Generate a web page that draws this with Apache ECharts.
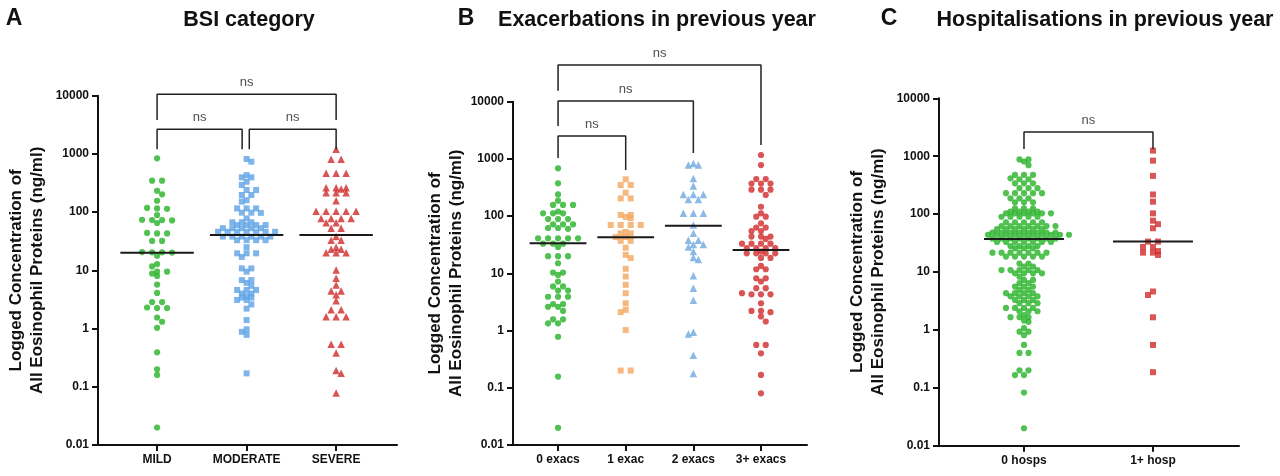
<!DOCTYPE html>
<html>
<head>
<meta charset="utf-8">
<script src="https://cdn.jsdelivr.net/npm/echarts@6.0.0/dist/echarts.min.js"></script>
<style>
html, body { margin: 0; padding: 0; background: #fff; }
#chart { width: 1280px; height: 476px; }
</style>
</head>
<body>
<div id="chart"></div>
<script>
// tick labels of the log axis (0.01 .. 10000)
var yTickLabels = ['0.01', '0.1', '1', '10', '100', '1000', '10000'];

// categories
var catsA = ['MILD', 'MODERATE', 'SEVERE'];
var catsB = ['0 exacs', '1 exac', '2 exacs', '3+ exacs'];
var catsC = ['0 hosps', '1+ hosp'];

// A - BSI category (ng/ml)
var mild = [840, 347, 347, 233, 202, 157, 116, 118, 114, 89, 73, 74, 72, 73, 65, 43, 43, 44, 32, 32,
  20.4, 20.4, 20.6, 20.2, 17.8, 12.8, 11.7, 9.5, 9.5, 8.8, 8.0, 5.7, 4.1, 2.85, 2.85, 2.25, 2.25, 2.3,
  1.55, 1.31, 1.03, 0.39, 0.20, 0.16, 0.020];
var moderate = [817, 735, 433, 396, 396, 333, 292, 240, 240, 197, 197, 160, 152, 116, 116, 116, 98, 98,
  97, 78, 67, 67, 67, 60, 60, 60, 60, 53, 53, 53, 53, 53, 46, 46, 46, 46, 46, 46, 46, 38, 38, 38, 38,
  38, 38, 33, 33, 33, 33, 25, 19.6, 19.6, 19.6, 17, 10.8, 10.8, 9.5, 6.8, 6.8, 6.1, 5.4, 4.6, 4.6, 4.6,
  4.0, 4.0, 3.6, 3.4, 3.4, 3.1, 3.1, 2.6, 2.2, 1.4, 0.97, 0.88, 0.78, 0.17];
var severe = [1200, 807, 807, 465, 465, 465, 263, 263, 263, 250, 215, 215, 215, 157, 104, 104, 104, 104,
  104, 78, 78, 78, 78, 66, 66, 53, 53, 38, 33, 33, 25, 23, 23, 20, 20, 20, 10.1, 7.3, 5.6, 4.4, 4.4,
  3.8, 3.0, 2.1, 2.1, 1.6, 1.6, 1.6, 0.54, 0.54, 0.38, 0.19, 0.17, 0.078];

// B - exacerbations in previous year
var exac0 = [684, 374, 240, 186, 157, 157, 157, 120, 112, 112, 112, 89, 89, 89, 72, 72, 72, 62, 62, 60,
  41, 41, 41, 41, 41, 33, 33, 33, 29, 20, 20, 20, 15, 10.3, 10.3, 9.4, 7.2, 5.9, 5.9, 5.0, 5.0, 3.9,
  3.9, 3.9, 2.9, 2.9, 2.6, 2.6, 2.2, 1.57, 1.57, 1.34, 1.34, 0.78, 0.157, 0.020];
var exac1 = [440, 350, 350, 257, 204, 204, 105, 105, 97, 92, 70, 70, 70, 70, 53, 50, 50, 43, 43, 37, 37,
  28, 21, 18.5, 12, 8.8, 6.3, 4.5, 3.0, 2.3, 2.1, 1.02, 0.2, 0.2];
var exac2 = [830, 782, 782, 457, 336, 240, 240, 240, 195, 195, 112, 112, 112, 70, 50, 38, 38, 32, 32, 29,
  24, 19, 17.5, 9.1, 5.5, 3.4, 0.93, 0.87, 0.37, 0.178];
var exac3 = [1170, 782, 445, 445, 370, 370, 370, 290, 290, 290, 235, 146, 112, 98, 98, 75, 63, 63, 55, 55,
  44, 44, 44, 40, 33, 33, 33, 33, 27.5, 27.5, 27.5, 27.5, 24, 22.4, 22.4, 22.4, 22.4, 18.6, 18.6, 13.5,
  11.8, 11.8, 8.2, 8.2, 7.2, 5.5, 5.5, 4.5, 4.3, 4.3, 4.3, 3.0, 2.2, 2.2, 2.1, 1.76, 1.44, 0.56, 0.56,
  0.40, 0.168, 0.080];

// C - hospitalisations in previous year
var hosp0 = [880, 880, 810, 700, 475, 475, 475, 415, 400, 400, 340, 340, 340, 280, 280, 280,
  230, 230, 230, 230, 230, 187, 187, 187, 160, 160, 160, 126, 126, 126, 110, 110, 110, 110,
  103, 103, 103, 103, 103, 103, 90, 90, 90, 90, 90, 72, 72, 72, 72, 72,
  62, 62, 62, 62, 62, 62, 62, 55, 55, 55, 55, 55, 55, 48, 48, 48, 48, 48, 48, 48, 48,
  44, 44, 44, 44, 44, 44, 44, 44, 44, 44, 38, 38, 38, 38, 38, 38, 38, 38,
  33, 33, 33, 33, 33, 33, 33, 28, 28, 28, 28, 25.6, 25.6, 25.6,
  21.6, 21.6, 21.6, 21.6, 21.6, 21.6, 21.6, 18.5, 18.5, 18.5, 18.5, 18.5,
  14, 14, 12.4, 12.4, 10.8, 10.8, 10.8, 10.8, 10.8, 9.5, 9.5, 9.5, 9.5, 8.3, 7.3, 7.3, 6.4, 6.4,
  5.6, 5.6, 5.6, 4.9, 4.9, 4.3, 4.3, 4.3, 4.3, 3.8, 3.8, 3.8, 3.8, 3.3, 3.3, 3.3, 2.9, 2.9, 2.9,
  2.4, 2.4, 2.4, 2.4, 2.1, 2.1, 2.1, 1.8, 1.66, 1.66, 1.66, 1.45, 1.38, 1.07, 0.93, 0.93, 0.81,
  0.55, 0.40, 0.40, 0.20, 0.20, 0.166, 0.166, 0.083, 0.020];
var hosp1 = [1250, 838, 457, 218, 164, 103, 77, 67, 57, 33.5, 33.5, 27, 27, 23, 21.6, 21.6, 19.7,
  4.6, 4.0, 1.65, 0.55, 0.186];

// medians (horizontal bars)
var mediansA = [20.1, 40.5, 40.5];
var mediansB = [33.5, 42.7, 68, 25.7];
var mediansC = [37, 33.5];

// comparison brackets: [from, to, bar level, left leg end, right leg end] (log10 units)
var bracketsA = [[0, 2, 4.024, 3.582, 3.582], [0, 0.95, 3.423, 3.079, 3.079], [1.03, 2, 3.423, 3.079, 3.079]];
var bracketsB = [[0, 3, 4.642, 4.192, 3.243], [0, 2, 4.012, 3.575, 3.103], [0, 1, 3.40, 3.016, 2.806]];
var bracketsC = [[0, 1, 3.418, 3.124, 3.124]];

var GREEN = '#25b225', BLUE = '#5ca3e6', RED = '#cf2a2a', ORANGE = '#f2a860', LBLUE = '#6fa8de';
var FONT = '"Liberation Sans", Arial, sans-serif';
var ROW_TOL = 1.2, ROW_GAP = 5.5;
var symbolSizes = { circle: 6.2, rect: 6, triangle: 7.5 };

var panels = [
  { grid: { left: 98, top: 95.7, width: 299, height: 349.3 }, xMin: -0.66, xMax: 2.68,
    cats: catsA, groups: [mild, moderate, severe], symbols: ['circle', 'rect', 'triangle'],
    colors: [GREEN, BLUE, RED], spacing: [10, 9.5, 10], medians: mediansA, medW: 0.41, brackets: bracketsA,
    nameGap: 50, title: 'BSI category', titleX: 249, letter: 'A', letterX: 14 },
  { grid: { left: 513, top: 101.7, width: 294, height: 343.3 }, xMin: -0.666, xMax: 3.68,
    cats: catsB, groups: [exac0, exac1, exac2, exac3], symbols: ['circle', 'rect', 'triangle', 'circle'],
    colors: [GREEN, ORANGE, LBLUE, RED], spacing: [10, 10, 10, 9.5], medians: mediansB, medW: 0.42,
    brackets: bracketsB, nameGap: 45, title: 'Exacerbations in previous year', titleX: 657, letter: 'B', letterX: 466 },
  { grid: { left: 939, top: 98.3, width: 300, height: 347.4 }, xMin: -0.659, xMax: 1.667,
    cats: catsC, groups: [hosp0, hosp1], symbols: ['circle', 'rect'],
    colors: [GREEN, RED], spacing: [9, 10], medians: mediansC, medW: 0.31, brackets: bracketsC,
    nameGap: 50, title: 'Hospitalisations in previous year', titleX: 1105, letter: 'C', letterX: 889 }
];

// row-based dot layout: near-equal values share a row, close rows are staggered by half a step
function swarm(vals, idx, pxDec, pxUnit, s) {
  var sorted = vals.slice().sort(function (a, b) { return b - a; });
  var rows = [];
  sorted.forEach(function (v) {
    var y = Math.log10(v) * pxDec;
    var last = rows[rows.length - 1];
    if (last && last.y - y < ROW_TOL) last.vals.push(v);
    else rows.push({ y: y, vals: [v] });
  });
  var out = [], prev = null, flip = 1;
  rows.forEach(function (r) {
    var n = r.vals.length;
    var phase = (n % 2 === 0) ? s / 2 : 0;
    var shift = 0;
    if (prev && prev.y - r.y < ROW_GAP && Math.abs(prev.phase - phase) < 0.01) {
      shift = flip * s / 2;
      flip = -flip;
      phase = s / 2 - phase;
    }
    r.vals.forEach(function (v, k) {
      var px = (k - (n - 1) / 2) * s + shift;
      out.push([idx + px / pxUnit, v]);
    });
    prev = { y: r.y, phase: phase };
  });
  return out;
}

var grids = [], xAxes = [], yAxes = [], series = [], graphics = [];

panels.forEach(function (p, pi) {
  var pxUnit = p.grid.width / (p.xMax - p.xMin);
  var pxDec = p.grid.height / 6;
  var ticks = p.cats.map(function (c, i) { return i; });
  grids.push(p.grid);
  xAxes.push({
    type: 'value', gridIndex: pi, min: p.xMin, max: p.xMax, splitLine: { show: false },
    axisLine: { show: true, onZero: false, lineStyle: { color: '#111', width: 2 } },
    axisTick: { show: true, customValues: ticks, length: 6, lineStyle: { color: '#111', width: 2 } },
    axisLabel: {
      customValues: ticks, margin: 9, fontSize: 12, fontWeight: 'bold', color: '#111', fontFamily: FONT,
      formatter: function (v) { return p.cats[Math.round(v)]; }
    }
  });
  yAxes.push({
    type: 'log', logBase: 10, gridIndex: pi, min: 0.01, max: 10000, splitLine: { show: false },
    name: 'Logged Concentration of\nAll Eosinophil Proteins (ng/ml)', nameLocation: 'middle', nameGap: p.nameGap,
    nameTextStyle: { fontSize: 17, fontWeight: 'bold', color: '#111', lineHeight: 21, fontFamily: FONT },
    axisLine: { show: true, onZero: false, lineStyle: { color: '#111', width: 2 } },
    axisTick: { show: true, length: 6, lineStyle: { color: '#111', width: 2 } },
    minorTick: { show: false },
    axisLabel: {
      margin: 9, fontSize: 12, fontWeight: 'bold', color: '#111', fontFamily: FONT,
      formatter: function (v) { return yTickLabels[Math.round(Math.log10(v)) + 2]; }
    }
  });

  p.groups.forEach(function (vals, gi) {
    series.push({
      type: 'scatter', xAxisIndex: pi, yAxisIndex: pi, symbol: p.symbols[gi],
      symbolSize: symbolSizes[p.symbols[gi]], itemStyle: { color: p.colors[gi] },
      data: swarm(vals, gi, pxDec, pxUnit, p.spacing[gi]), z: 2
    });
    var m = p.medians[gi];
    series.push({
      type: 'line', xAxisIndex: pi, yAxisIndex: pi, symbol: 'none', z: 5,
      lineStyle: { color: '#1a1a1a', width: 2 },
      data: [[gi - p.medW, m], [gi + p.medW, m]]
    });
  });

  p.brackets.forEach(function (b) {
    var bar = Math.pow(10, b[2]);
    series.push({
      type: 'line', xAxisIndex: pi, yAxisIndex: pi, symbol: 'none', clip: false, z: 4,
      lineStyle: { color: '#222', width: 1.5 },
      data: [[b[0], Math.pow(10, b[3])], [b[0], bar], [b[1], bar], [b[1], Math.pow(10, b[4])]]
    });
    series.push({
      type: 'scatter', xAxisIndex: pi, yAxisIndex: pi, symbolSize: 0, clip: false, silent: true,
      data: [[(b[0] + b[1]) / 2, bar]],
      label: { show: true, position: 'top', distance: 5, formatter: 'ns', fontSize: 13, color: '#222', fontFamily: FONT }
    });
  });

  graphics.push({
    type: 'text', x: p.letterX, y: 19,
    style: { text: p.letter, font: 'bold 23px ' + FONT, fill: '#111', textAlign: 'center', textVerticalAlign: 'middle' }
  });
  graphics.push({
    type: 'text', x: p.titleX, y: 20,
    style: { text: p.title, font: 'bold 21.5px ' + FONT, fill: '#111', textAlign: 'center', textVerticalAlign: 'middle' }
  });
});

var chart = echarts.init(document.getElementById('chart'));
chart.setOption({
  animation: false,
  backgroundColor: '#fff',
  textStyle: { fontFamily: FONT },
  grid: grids,
  xAxis: xAxes,
  yAxis: yAxes,
  graphic: graphics,
  series: series
});
</script>
</body>
</html>
